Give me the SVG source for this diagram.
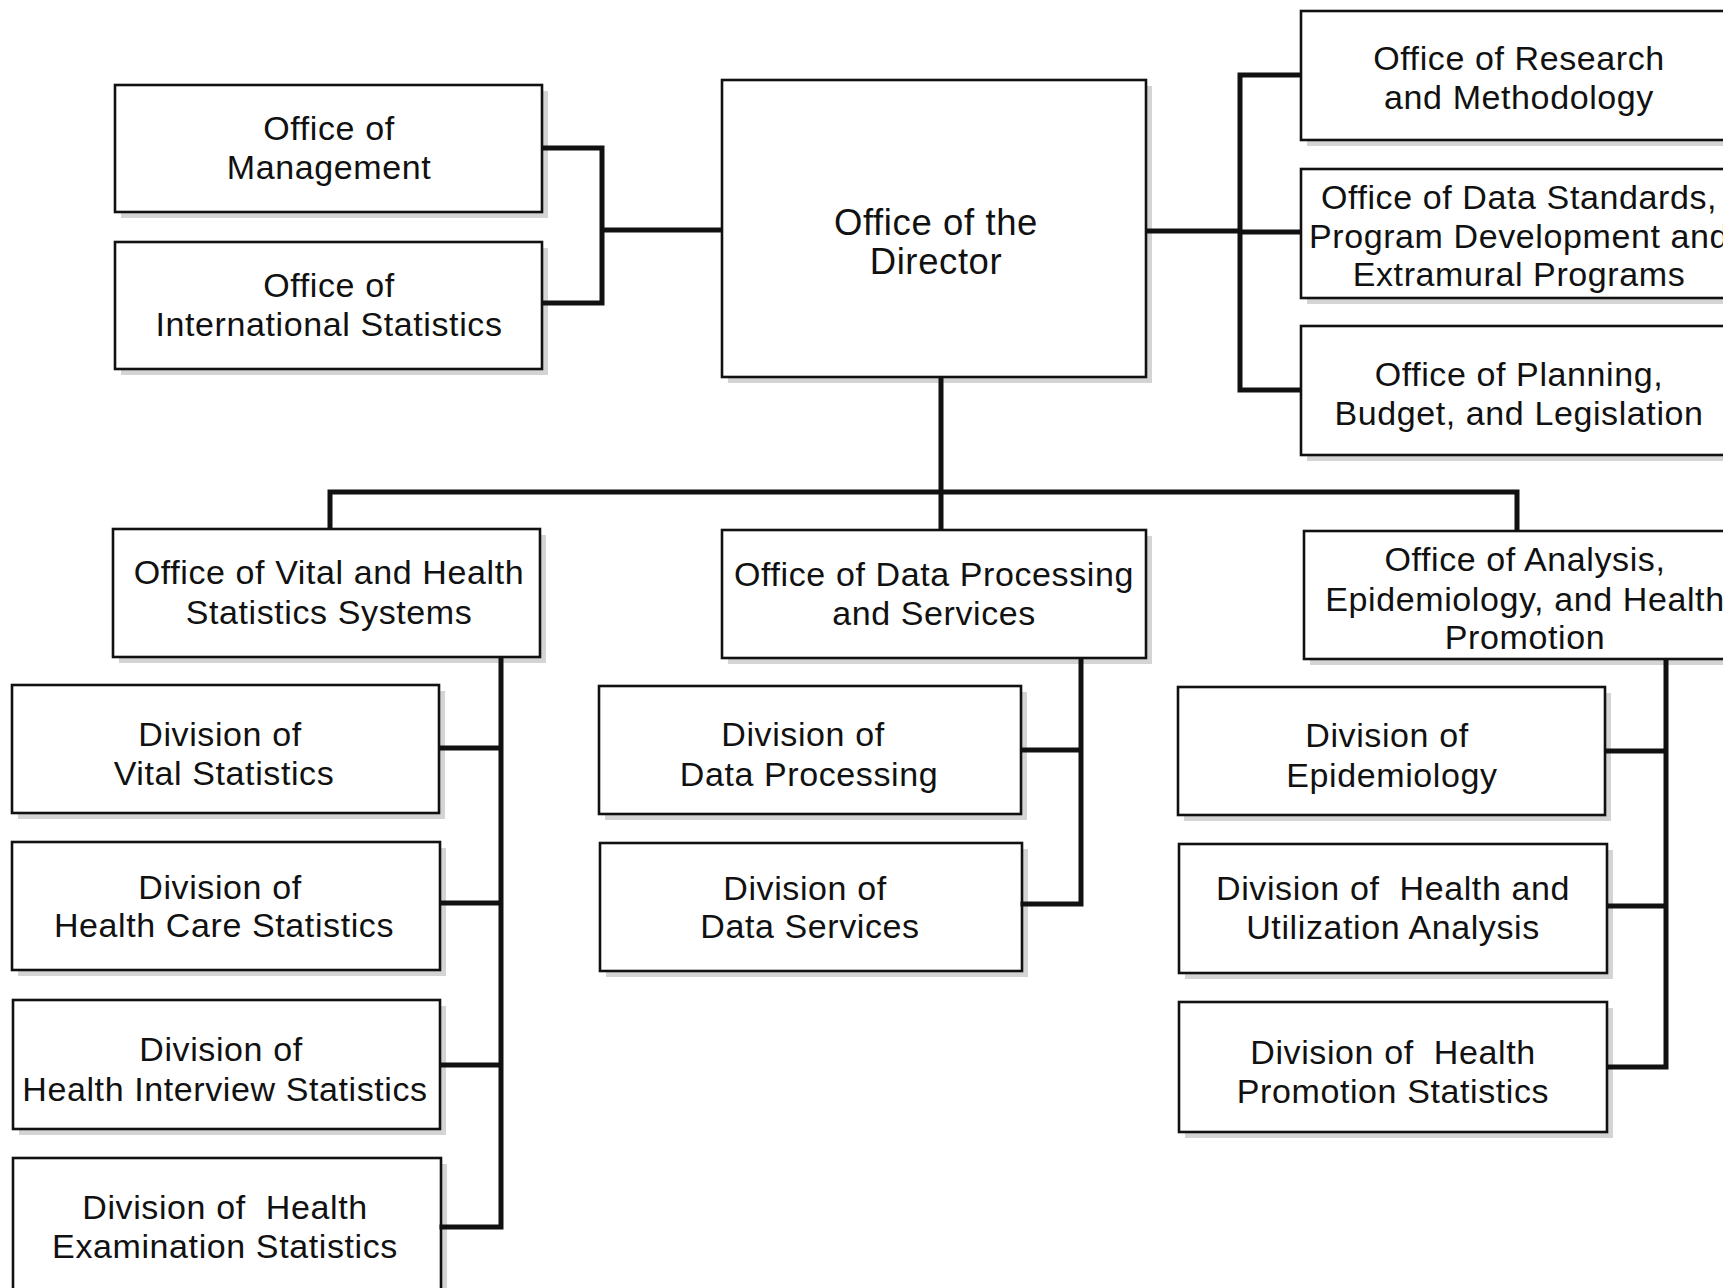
<svg xmlns="http://www.w3.org/2000/svg" width="1723" height="1288" viewBox="0 0 1723 1288">
<style>
.bx{fill:#fff;stroke:#111;stroke-width:2.6}
.sh{fill:#d4d4d4}
.t{font-family:"Liberation Sans",Arial,sans-serif;font-size:34px;letter-spacing:0.6px;fill:#111;text-anchor:middle;white-space:pre}
.big{font-size:36.5px}
.c{fill:none;stroke:#111;stroke-width:5;stroke-linecap:square}
</style>
<rect width="1723" height="1288" fill="#fff"/>
<g id="n1"><rect class="sh" x="121" y="91" width="427" height="127"/><rect class="bx" x="115" y="85" width="427" height="127"/><text class="t" x="329" y="140">Office of</text><text class="t" x="329" y="179">Management</text></g>
<g id="n2"><rect class="sh" x="121" y="248" width="427" height="127"/><rect class="bx" x="115" y="242" width="427" height="127"/><text class="t" x="329" y="297">Office of</text><text class="t" x="329" y="336">International Statistics</text></g>
<g id="n3"><rect class="sh" x="728" y="86" width="424" height="297"/><rect class="bx" x="722" y="80" width="424" height="297"/><text class="t big" x="936" y="235">Office of the</text><text class="t big" x="936" y="274">Director</text></g>
<g id="n4"><rect class="sh" x="1307" y="17" width="440" height="129"/><rect class="bx" x="1301" y="11" width="440" height="129"/><text class="t" x="1519" y="70">Office of Research</text><text class="t" x="1519" y="109">and Methodology</text></g>
<g id="n5"><rect class="sh" x="1307" y="175" width="440" height="129"/><rect class="bx" x="1301" y="169" width="440" height="129"/><text class="t" x="1519" y="209">Office of Data Standards,</text><text class="t" x="1519" y="248">Program Development and</text><text class="t" x="1519" y="286">Extramural Programs</text></g>
<g id="n6"><rect class="sh" x="1307" y="332" width="440" height="129"/><rect class="bx" x="1301" y="326" width="440" height="129"/><text class="t" x="1519" y="386">Office of Planning,</text><text class="t" x="1519" y="425">Budget, and Legislation</text></g>
<g id="n7"><rect class="sh" x="119" y="535" width="427" height="128"/><rect class="bx" x="113" y="529" width="427" height="128"/><text class="t" x="329" y="584">Office of Vital and Health</text><text class="t" x="329" y="624">Statistics Systems</text></g>
<g id="n8"><rect class="sh" x="728" y="536" width="424" height="128"/><rect class="bx" x="722" y="530" width="424" height="128"/><text class="t" x="934" y="586">Office of Data Processing</text><text class="t" x="934" y="625">and Services</text></g>
<g id="n9"><rect class="sh" x="1310" y="537" width="440" height="128"/><rect class="bx" x="1304" y="531" width="440" height="128"/><text class="t" x="1525" y="571">Office of Analysis,</text><text class="t" x="1525" y="611">Epidemiology, and Health</text><text class="t" x="1525" y="649">Promotion</text></g>
<g id="n10"><rect class="sh" x="18" y="691" width="427" height="128"/><rect class="bx" x="12" y="685" width="427" height="128"/><text class="t" x="220" y="746">Division of</text><text class="t" x="224" y="785">Vital Statistics</text></g>
<g id="n11"><rect class="sh" x="18" y="848" width="428" height="128"/><rect class="bx" x="12" y="842" width="428" height="128"/><text class="t" x="220" y="899">Division of</text><text class="t" x="224" y="937">Health Care Statistics</text></g>
<g id="n12"><rect class="sh" x="19" y="1006" width="427" height="129"/><rect class="bx" x="13" y="1000" width="427" height="129"/><text class="t" x="221" y="1061">Division of</text><text class="t" x="225" y="1101">Health Interview Statistics</text></g>
<g id="n13"><rect class="sh" x="19" y="1164" width="428" height="140"/><rect class="bx" x="13" y="1158" width="428" height="140"/><text class="t" x="225" y="1219">Division of  Health</text><text class="t" x="225" y="1258">Examination Statistics</text></g>
<g id="n14"><rect class="sh" x="605" y="692" width="422" height="128"/><rect class="bx" x="599" y="686" width="422" height="128"/><text class="t" x="803" y="746">Division of</text><text class="t" x="809" y="786">Data Processing</text></g>
<g id="n15"><rect class="sh" x="606" y="849" width="422" height="128"/><rect class="bx" x="600" y="843" width="422" height="128"/><text class="t" x="805" y="900">Division of</text><text class="t" x="810" y="938">Data Services</text></g>
<g id="n16"><rect class="sh" x="1184" y="693" width="427" height="128"/><rect class="bx" x="1178" y="687" width="427" height="128"/><text class="t" x="1387" y="747">Division of</text><text class="t" x="1392" y="787">Epidemiology</text></g>
<g id="n17"><rect class="sh" x="1185" y="850" width="428" height="129"/><rect class="bx" x="1179" y="844" width="428" height="129"/><text class="t" x="1393" y="900">Division of  Health and</text><text class="t" x="1393" y="939">Utilization Analysis</text></g>
<g id="n18"><rect class="sh" x="1185" y="1008" width="428" height="130"/><rect class="bx" x="1179" y="1002" width="428" height="130"/><text class="t" x="1393" y="1064">Division of  Health</text><text class="t" x="1393" y="1103">Promotion Statistics</text></g>
<g id="connectors">
<path class="c" d="M544,148 H602 V303 H544 M602,230 H720"/>
<path class="c" d="M1148,231 H1240 M1299,75 H1240 V390 H1299 M1240,232 H1299"/>
<path class="c" d="M941,379 V528 M330,527 V492 H1517 V529"/>
<path class="c" d="M501,659 V1227 H442 M442,748 H501 M442,903 H501 M442,1065 H501"/>
<path class="c" d="M1081,660 V904 H1023 M1023,750 H1081"/>
<path class="c" d="M1666,661 V1067 H1609 M1608,751 H1666 M1609,906 H1666"/>
</g>
</svg>
